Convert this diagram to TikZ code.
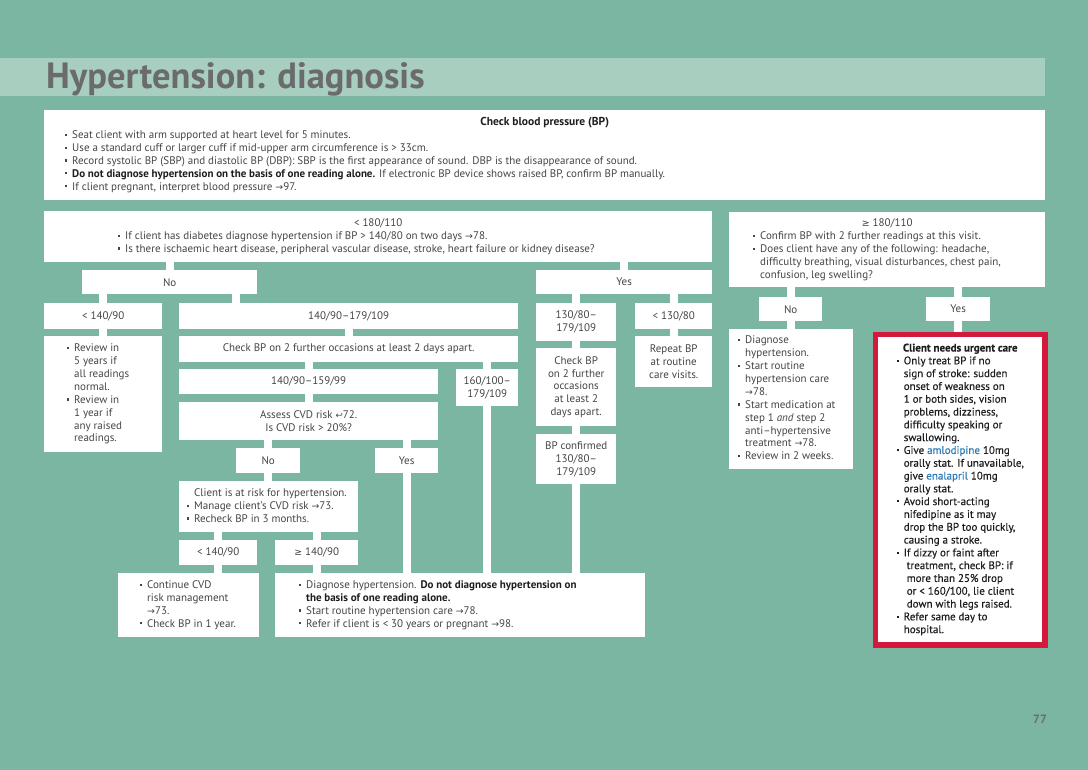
\documentclass[tikz,border=0pt]{standalone}
\usepackage{fontspec}
\usepackage{graphicx}
\setmainfont{PT Sans}
\newfontfamily\symf{DejaVu Sans}
\newfontfamily\semibf[FakeBold=0.3]{PT Sans}
\definecolor{bgc}{HTML}{7BB6A3}
\definecolor{barc}{HTML}{A8CEBF}
\definecolor{titlec}{HTML}{6B6B6D}
\definecolor{bodyc}{HTML}{454547}
\definecolor{darkc}{HTML}{1E1E20}
\definecolor{redc}{HTML}{D41A3C}
\definecolor{bluec}{HTML}{2B7BB9}
\newcommand{\rarr}{{\symf\scalebox{0.85}{→}}}
\newcommand{\gte}{{\symf\scalebox{0.85}{≥}}}
\newcommand{\bul}{\makebox[7pt][l]{\raisebox{0.24em}{\rule{2.1pt}{2.1pt}}}}
\newcommand{\hind}{\hspace*{7pt}}
\newcommand{\tbx}[2]{\makebox[#1][l]{\begin{tabular}{@{}l@{}}#2\end{tabular}}}
\pgfdeclarelayer{back}
\pgfsetlayers{back,main}
\tikzset{
  box/.style={fill=white, anchor=north west, inner sep=0pt, align=center,
    text=bodyc, font=\fontsize{11}{12.9}\selectfont},
  conn/.style={draw=white, line width=8pt},
  titlest/.style={anchor=base west, inner sep=0pt, text=titlec,
    font=\fontsize{36.5}{36.5}\selectfont\bfseries},
  pagest/.style={anchor=base east, inner sep=0pt, text=titlec,
    font=\fontsize{12}{12}\selectfont\bfseries},
}
\begin{document}
\begin{tikzpicture}[x=1pt,y=-1pt]
\begin{pgfonlayer}{back}
  \fill[bgc] (0,0) rectangle (1088,770);
  \fill[barc] (0,58) rectangle (1045,96);
\end{pgfonlayer}
\useasboundingbox (0,0) rectangle (1088,770);
\node[titlest] (title) at (46,89) {Hypertension: diagnosis};
\node[pagest] (pg) at (1047,723) {77};

% top box
\node[box, minimum width=1001pt, minimum height=90pt] (top) at (44,110) {\tbx{959pt}{%
\makebox[959pt][c]{\fontsize{11.5}{12.9}\selectfont\bfseries\color{darkc}Check blood pressure (BP)}\\
\bul Seat client with arm supported at heart level for 5 minutes.\\
\bul Use a standard cuff or larger cuff if mid-upper arm circumference is > 33cm.\\
\bul Record systolic BP (SBP) and diastolic BP (DBP): SBP is the first appearance of sound. DBP is the disappearance of sound.\\
\bul {\bfseries\color{darkc}Do not diagnose hypertension on the basis of one reading alone.} If electronic BP device shows raised BP, confirm BP manually.\\
\bul If client pregnant, interpret blood pressure \rarr97.}};

% left branch
\node[box, minimum width=668pt, minimum height=51pt] (lt) at (44,211) {\tbx{520pt}{%
\makebox[520pt][c]{< 180/110}\\
\bul If client has diabetes diagnose hypertension if BP > 140/80 on two days \rarr78.\\
\bul Is there ischaemic heart disease, peripheral vascular disease, stroke, heart failure or kidney disease?}};
\node[box, minimum width=175pt, minimum height=24pt] (nol) at (82,270) {No};
\node[box, minimum width=176pt, minimum height=24pt] (yesl) at (536,270) {Yes};
\node[box, minimum width=118pt, minimum height=26pt] (lt140) at (44,303) {< 140/90};
\node[box, minimum width=339pt, minimum height=26pt] (mid) at (179,303) {140/90–179/109};
\node[box, minimum width=80pt, minimum height=38pt] (b130) at (536,303) {130/80–\\179/109};
\node[box, minimum width=77pt, minimum height=26pt] (l130) at (635,303) {< 130/80};
\node[box, minimum width=118pt, minimum height=116pt] (review) at (44,336) {\tbx{72pt}{%
\bul Review in\\ \hind 5 years if\\ \hind all readings\\ \hind normal.\\
\bul Review in\\ \hind 1 year if\\ \hind any raised\\ \hind readings.}};
\node[box, minimum width=339pt, minimum height=26pt] (check1) at (179,336) {Check BP on 2 further occasions at least 2 days apart.};
\node[box, minimum width=259pt, minimum height=25pt] (b159) at (179,369) {140/90–159/99};
\node[box, minimum width=62pt, minimum height=37pt] (b160) at (456,369) {160/100–\\179/109};
\node[box, minimum width=259pt, minimum height=38pt] (cvd) at (179,402) {Assess CVD risk {\symf\scalebox{0.8}{↩}}72.\\Is CVD risk > 20\%?};
\node[box, minimum width=64pt, minimum height=25pt] (cvdno) at (236,448) {No};
\node[box, minimum width=63pt, minimum height=25pt] (cvdyes) at (375,448) {Yes};
\node[box, minimum width=179pt, minimum height=51pt] (risk) at (179,481) {\tbx{163pt}{%
\hind Client is at risk for hypertension.\\
\bul Manage client’s CVD risk \rarr73.\\
\bul Recheck BP in 3 months.}};
\node[box, minimum width=78pt, minimum height=25pt] (r140) at (179,540) {< 140/90};
\node[box, minimum width=83pt, minimum height=25pt] (rge140) at (275,540) {\gte\ 140/90};
\node[box, minimum width=141pt, minimum height=64pt] (cont) at (118,573) {\tbx{97pt}{%
\bul Continue CVD\\ \hind risk management\\ \hind \rarr73.\\
\bul Check BP in 1 year.}};
\node[box, minimum width=370pt, minimum height=64pt] (diag) at (275,573) {\tbx{322pt}{%
\bul Diagnose hypertension. {\bfseries\color{darkc}Do not diagnose hypertension on}\\
\hind {\bfseries\color{darkc}the basis of one reading alone.}\\
\bul Start routine hypertension care \rarr78.\\
\bul Refer if client is < 30 years or pregnant \rarr98.}};
\node[box, minimum width=80pt, minimum height=78pt] (check2) at (536,348) {Check BP\\on 2 further\\occasions\\at least 2\\days apart.};
\node[box, minimum width=80pt, minimum height=50pt] (conf) at (536,434) {BP confirmed\\130/80–\\179/109};
\node[box, minimum width=77pt, minimum height=51pt] (repeat) at (635,336) {Repeat BP\\at routine\\care visits.};

% right branch
\node[box, minimum width=316pt, minimum height=75pt] (rt) at (729,212) {\tbx{268pt}{%
\makebox[268pt][c]{\gte\ 180/110}\\
\bul Confirm BP with 2 further readings at this visit.\\
\bul Does client have any of the following: headache,\\
\hind difficulty breathing, visual disturbances, chest pain,\\
\hind confusion, leg swelling?}};
\node[box, minimum width=63pt, minimum height=24pt] (rno) at (759,297) {No};
\node[box, minimum width=64pt, minimum height=24pt] (ryes) at (926,297) {Yes};
\node[box, minimum width=124pt, minimum height=140pt] (rdiag) at (729,329) {\tbx{106pt}{%
\bul Diagnose\\ \hind hypertension.\\
\bul Start routine\\ \hind hypertension care\\ \hind \rarr78.\\
\bul Start medication at\\ \hind step 1 \textit{and} step 2\\ \hind anti–hypertensive\\ \hind treatment \rarr78.\\
\bul Review in 2 weeks.}};
\node[box, draw=redc, line width=5.5pt, minimum width=169.5pt, minimum height=310.5pt,
  text=darkc, font=\fontsize{11}{12.8}\selectfont\semibf] (urg) at (872.75,331.75) {\tbx{127pt}{%
\makebox[127pt][c]{\bfseries Client needs urgent care}\\
\bul Only treat BP if no\\ \hind sign of stroke: sudden\\ \hind onset of weakness on\\
\hind 1 or both sides, vision\\ \hind problems, dizziness,\\ \hind difficulty speaking or\\ \hind swallowing.\\
\bul Give {\color{bluec}amlodipine} 10mg\\ \hind orally stat. If unavailable,\\ \hind give {\color{bluec}enalapril} 10mg\\ \hind orally stat.\\
\bul Avoid short-acting\\ \hind nifedipine as it may\\ \hind drop the BP too quickly,\\ \hind causing a stroke.\\
\bul If dizzy or faint after\\ \hspace*{10pt}treatment, check BP: if\\ \hspace*{10pt}more than 25\% drop\\ \hspace*{10pt}or < 160/100, lie client\\ \hspace*{10pt}down with legs raised.\\
\bul Refer same day to\\ \hind hospital.}};

\coordinate (xa) at (236,0);
\begin{pgfonlayer}{back}
  \draw[conn] (nol.north) -- (nol.north |- lt.south);
  \draw[conn] (yesl.north) -- (yesl.north |- lt.south);
  \draw[conn] (lt140.north) -- (lt140.north |- nol.south);
  \draw[conn] (mid.north -| xa) -- (nol.south -| xa);
  \draw[conn] (b130.north) -- (b130.north |- yesl.south);
  \draw[conn] (l130.north) -- (l130.north |- yesl.south);
  \draw[conn] (lt140.south) -- (review.north);
  \draw[conn] (mid.south) -- (mid.south |- check1.north);
  \draw[conn] (b159.north) -- (b159.north |- check1.south);
  \draw[conn] (b160.north) -- (b160.north |- check1.south);
  \draw[conn] (b159.south) -- (b159.south |- cvd.north);
  \draw[conn] (cvdno.north) -- (cvdno.north |- cvd.south);
  \draw[conn] (cvdyes.north) -- (cvdyes.north |- cvd.south);
  \draw[conn] (cvdno.south) -- (cvdno.south |- risk.north);
  \draw[conn] (cvdyes.south) -- (cvdyes.south |- diag.north);
  \draw[conn] (b160.south) -- (b160.south |- diag.north);
  \draw[conn] (r140.north) -- (r140.north |- risk.south);
  \draw[conn] (rge140.north) -- (rge140.north |- risk.south);
  \draw[conn] (r140.south) -- (r140.south |- cont.north);
  \draw[conn] (rge140.south) -- (rge140.south |- diag.north);
  \draw[conn] (b130.south) -- (b130.south |- check2.north);
  \draw[conn] (check2.south) -- (conf.north);
  \draw[conn] (conf.south) -- (conf.south |- diag.north);
  \draw[conn] (l130.south) -- (repeat.north);
  \draw[conn] (rno.north) -- (rno.north |- rt.south);
  \draw[conn] (ryes.north) -- (ryes.north |- rt.south);
  \draw[conn] (rno.south) -- (rno.south |- rdiag.north);
  \draw[conn] (ryes.south) -- (ryes.south |- urg.north);
\end{pgfonlayer}
\end{tikzpicture}
\end{document}
